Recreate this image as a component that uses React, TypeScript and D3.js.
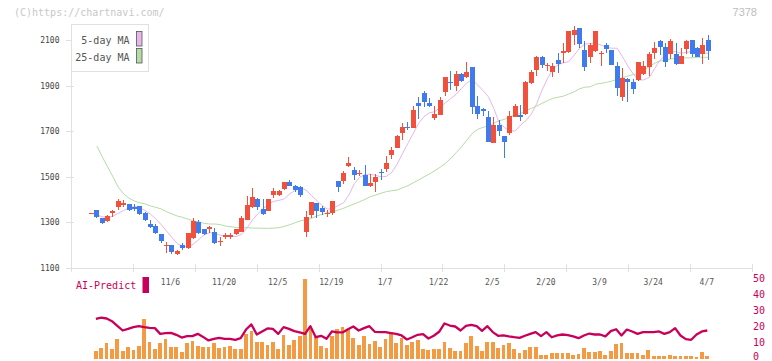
import React from 'react';
import * as d3 from 'd3';

// ---- data (index 0..115, trading days) ----
const opens = [1340,1354,1318,1307,1343,1369,1375,1379,1369,1372,
1343,1293,1284,1249,1197,1201,1161,1201,1186,1230,
1300,1270,1270,1257,1217,1237,1237,1249,1259,1311,
1366,1403,1359,1350,1420,1420,1447,1476,1460,1454,
1259,1332,1384,1362,1335,1340,1481,1483,1547,1530,
1514,1508,1461,1479,1521,1534,1596,1628,1693,1718,
1715,1822,1866,1822,1758,1771,1873,1917,1900,1949,
1936,1980,1810,1797,1761,1650,1727,1679,1691,1764,
1771,1774,1910,1968,2027,1986,1961,2012,2044,2046,
2122,2151,2056,2024,2053,2041,2078,2056,1986,1851,
1929,1917,1925,1951,1983,2044,2096,2071,2039,2039,
1995,2059,2100,2067,2039,2100];
const highs = [1341,1355,1318,1331,1354,1403,1398,1380,1379,1374,
1345,1309,1293,1251,1215,1203,1180,1208,1253,1320,
1311,1271,1284,1277,1235,1252,1254,1272,1328,1416,
1452,1405,1403,1403,1452,1440,1479,1486,1464,1458,
1352,1390,1385,1372,1354,1395,1482,1527,1588,1545,
1528,1552,1511,1511,1535,1592,1632,1683,1738,1742,
1810,1851,1878,1845,1810,1848,1939,1966,1962,1956,
2003,1980,1854,1800,1788,1761,1749,1679,1790,1821,
1815,1922,1968,2030,2030,1997,1997,2041,2085,2139,
2163,2151,2095,2085,2139,2050,2085,2056,2003,1979,
1934,1929,2005,2008,2049,2093,2100,2085,2103,2085,
2065,2100,2100,2071,2109,2122];
const lows = [1339,1318,1292,1303,1322,1354,1366,1352,1350,1332,
1308,1277,1251,1211,1167,1163,1157,1180,1184,1226,
1250,1245,1255,1207,1198,1229,1229,1245,1257,1309,
1362,1354,1332,1348,1408,1414,1443,1458,1435,1413,
1237,1318,1320,1332,1322,1332,1435,1467,1543,1487,
1502,1458,1457,1432,1487,1519,1577,1625,1660,1705,
1713,1753,1808,1808,1749,1771,1854,1881,1878,1915,
1932,1777,1752,1766,1654,1648,1679,1584,1684,1761,
1744,1771,1907,1940,1976,1966,1937,1955,2000,2041,
2077,2063,1966,1998,2049,1985,2044,1990,1856,1834,
1829,1864,1922,1947,1942,2017,2034,1983,2017,1990,
1995,2039,2027,2024,1995,2012];
const closes = [1341,1322,1299,1328,1350,1394,1384,1354,1360,1335,
1311,1281,1255,1220,1199,1172,1175,1189,1252,1306,
1252,1249,1281,1211,1219,1245,1245,1270,1318,1376,
1413,1369,1337,1401,1438,1438,1476,1461,1442,1420,
1322,1389,1351,1347,1343,1394,1457,1518,1562,1508,
1516,1461,1474,1500,1519,1560,1617,1679,1720,1716,
1793,1812,1829,1812,1775,1837,1936,1910,1949,1922,
1960,1808,1774,1787,1654,1727,1702,1654,1767,1810,
1761,1914,1961,2027,1990,1990,1986,1995,2052,2139,
2144,2081,1983,2078,2139,2043,2059,1990,1891,1934,
1917,1885,2002,1986,2039,2067,2068,2005,2096,1995,
2030,2096,2039,2027,2078,2053];

// moving averages, volume and AI-Predict start at index 1
const seriesStart = 1;
const ma5 = [1332,1325,1322,1327,1340,1352,1365,1370,1365,1352,
1336,1315,1290,1262,1234,1207,1195,1193,1205,1225,
1245,1255,1252,1244,1240,1238,1238,1248,1276,1310,
1338,1360,1381,1392,1397,1404,1426,1441,1450,1442,
1418,1396,1374,1358,1362,1374,1386,1420,1470,1498,
1510,1512,1506,1500,1502,1520,1556,1603,1647,1691,
1735,1764,1781,1785,1805,1825,1844,1862,1888,1913,
1925,1903,1878,1851,1800,1738,1716,1701,1701,1727,
1746,1775,1820,1880,1930,1970,1992,2000,2005,2034,
2064,2082,2085,2085,2078,2068,2064,2064,2027,1986,
1951,1925,1925,1936,1975,2012,2034,2049,2049,2042,
2046,2049,2046,2044,2042];
const ma25 = [1635,1588,1544,1500,1454,1425,1406,1394,1386,1381,
1372,1366,1359,1347,1337,1328,1322,1314,1307,1302,
1296,1293,1293,1290,1284,1281,1278,1277,1277,1275,
1275,1274,1274,1275,1277,1283,1290,1299,1307,1311,
1318,1328,1335,1343,1347,1354,1362,1372,1381,1391,
1401,1413,1420,1428,1435,1439,1442,1452,1461,1474,
1486,1500,1512,1527,1542,1559,1581,1606,1632,1661,
1691,1708,1717,1723,1735,1746,1752,1764,1771,1778,
1790,1800,1810,1822,1834,1844,1849,1854,1863,1873,
1886,1893,1895,1906,1910,1914,1920,1927,1935,1942,
1948,1954,1968,1983,1998,2008,2012,2017,2020,2020,
2022,2022,2024,2024,2024];
const volume = [4.9,6.8,9.9,6.0,12.2,4.9,7.2,5.3,8.0,24.8,
10.5,6.0,9.9,12.2,7.4,7.4,4.3,9.9,11.2,8.0,
7.0,7.0,9.5,6.8,7.4,8.0,6.0,6.0,15.4,17.5,
10.5,10.5,8.5,10.5,6.0,14.7,8.5,11.6,14.1,49.9,
18.5,13.3,7.8,6.4,14.1,18.5,19.4,18.3,12.7,8.5,
14.1,9.1,11.0,7.2,12.2,16.8,9.9,13.1,8.5,10.5,
11.6,6.0,5.3,5.8,6.0,10.5,6.8,4.9,4.9,9.9,
14.1,8.0,4.9,10.5,10.5,6.8,8.5,9.9,5.8,3.6,
5.3,7.0,7.4,2.2,2.2,3.3,3.3,3.3,3.3,2.2,
2.6,6.4,4.3,4.3,4.7,2.2,4.7,9.1,9.9,3.3,
3.3,3.3,2.2,5.3,1.6,1.6,1.6,2.2,1.6,1.6,
1.6,1.6,1.1,3.9,1.6];
const aiPredict = [24.8,25.6,25.0,23.3,20.4,17.5,18.5,19.6,20.2,19.6,
19.2,19.0,15.4,15.8,16.0,14.8,13.1,14.0,14.0,15.4,
13.5,11.3,12.3,12.9,12.3,12.3,11.7,12.7,18.1,21.3,
15.0,16.9,18.8,18.5,15.4,19.6,18.5,17.1,16.3,15.4,
20.2,13.3,14.2,12.3,16.9,16.3,16.3,18.3,20.0,17.5,
19.0,20.2,16.7,16.5,16.5,15.8,15.4,14.4,11.9,13.3,
14.8,15.2,12.5,14.2,16.7,21.9,20.6,20.0,17.5,20.4,
21.0,20.2,17.3,20.2,16.5,14.2,14.4,13.8,13.3,12.9,
14.2,15.4,16.5,14.0,16.5,13.3,14.4,15.0,14.6,13.8,
12.7,14.4,15.6,15.0,15.0,13.8,17.1,18.3,14.4,18.1,
16.9,15.4,16.5,16.5,16.5,16.9,15.4,16.5,19.0,14.4,
12.1,11.7,15.0,16.9,17.5];

const priceTicks = [1100, 1300, 1500, 1700, 1900, 2100];
const dateLabels = ['11/6','11/20','12/5','12/19','1/7','1/22','2/5','2/20','3/9','3/24','4/7'];
const dateLabelIdx = [15,25,35,45,55,65,75,85,95,105,115];
const aiTicks = [0, 10, 20, 30, 40, 50];
const xTickCount = 11;

const RED = '#f0503c';
const BLUE = '#3f7bed';
const PINK = '#e8b6ec';
const GREEN = '#b5dca8';
const CRIMSON = '#c8005a';
const ORANGE = '#f39a42';
const AXIS = '#e0e0e0';
const MONO = '"DejaVu Sans Mono", monospace';

export default function App() {
  const W = 772, H = 361;
  const x = d3.scaleLinear().domain([0, opens.length - 1]).range([91.5, 708.3]);
  const y = d3.scaleLinear().domain([1100, 2100]).range([268, 40]);
  const yb = d3.scaleLinear().domain([0, 50]).range([358.5, 278.5]);
  const xt = d3.scaleLinear().domain([0, xTickCount]).range([71, 752]);

  const line = d3.line<number>()
    .x((_, i) => x(i + seriesStart))
    .y((d) => y(d));
  const aiLine = d3.line<number>()
    .x((_, i) => x(i + seriesStart) - 1)
    .y((d) => yb(d));

  const bodyW = 5;

  return (
    <svg width={W} height={H} style={{ position: 'absolute', left: 0, top: 0, background: '#fff' }}
      xmlns="http://www.w3.org/2000/svg">
      <rect x={0} y={0} width={W} height={H} fill="#fff" />
      <text x={14} y={16} fontFamily={MONO} fontSize={10} fill="#c8c8c8">(C)https://chartnavi.com/</text>
      <text x={757} y={16} textAnchor="end" fontFamily='"Liberation Sans", Arial, sans-serif' fontSize={11} fill="#bdbdbd">7378</text>

      {/* axes */}
      <g shapeRendering="crispEdges">
        <line x1={71} x2={71} y1={24} y2={268} stroke={AXIS} />
        <line x1={71} x2={752} y1={268} y2={268} stroke={AXIS} />
        {priceTicks.map((t) => (
          <line key={'yt' + t} x1={65.5} x2={73.5} y1={Math.round(y(t)) + 0.5} y2={Math.round(y(t)) + 0.5} stroke={AXIS} />
        ))}
        {d3.range(xTickCount + 1).map((k) => (
          <line key={'xt' + k} x1={Math.round(xt(k)) + 0.5} x2={Math.round(xt(k)) + 0.5} y1={264} y2={272} stroke={AXIS} />
        ))}
      </g>
      {priceTicks.map((t) => (
        <text key={'yl' + t} x={59.5} y={y(t) + 3} textAnchor="end" fontFamily={MONO} fontSize={8} fill="#444">{t}</text>
      ))}
      {dateLabels.map((l, i) => (
        <text key={'xl' + l} x={x(dateLabelIdx[i]) - 1.5} y={285} textAnchor="middle" fontFamily={MONO} fontSize={8} fill="#555">{l}</text>
      ))}

      {/* moving averages */}
      <path d={line(ma25) || ''} fill="none" stroke={GREEN} strokeWidth={1} />
      <path d={line(ma5) || ''} fill="none" stroke={PINK} strokeWidth={1} />

      {/* candles */}
      <g shapeRendering="crispEdges">
        {opens.map((o, i) => {
          const c = closes[i];
          const up = c >= o;
          const col = up ? RED : BLUE;
          const cx = x(i);
          const left = Math.round(cx - bodyW / 2);
          const top = Math.round(y(Math.max(o, c)));
          const bot = Math.round(y(Math.min(o, c)));
          return (
            <g key={'c' + i}>
              <rect x={left + 2} y={Math.round(y(highs[i]))} width={1} height={Math.max(1, Math.round(y(lows[i])) - Math.round(y(highs[i])))} fill={col} />
              <rect x={left} y={top} width={bodyW} height={Math.max(1, bot - top)} fill={col} />
            </g>
          );
        })}
      </g>

      {/* legend */}
      <rect x={71} y={24.5} width={77} height={46.5} fill="#fff" stroke={AXIS} shapeRendering="crispEdges" />
      <text x={129.5} y={44} textAnchor="end" fontFamily={MONO} fontSize={10} fill="#555">5-day MA</text>
      <text x={129.5} y={61} textAnchor="end" fontFamily={MONO} fontSize={10} fill="#555">25-day MA</text>
      <rect x={136.5} y={31.5} width={5.5} height={14.5} fill={PINK} stroke="#555" strokeWidth={0.8} />
      <rect x={136.5} y={48.5} width={5.5} height={14.5} fill={GREEN} stroke="#555" strokeWidth={0.8} />

      {/* lower panel */}
      <text x={76} y={289} fontFamily={MONO} fontSize={10} fill={CRIMSON}>AI-Predict</text>
      <rect x={142.5} y={277} width={6.5} height={16} fill={CRIMSON} />
      <g shapeRendering="crispEdges">
        {volume.map((v, i) => {
          const cx = x(i + seriesStart) - 1;
          return <rect key={'v' + i} x={cx - 1.9} y={yb(v)} width={3.8} height={yb(0) - yb(v)} fill={ORANGE} />;
        })}
      </g>
      <path d={aiLine(aiPredict) || ''} fill="none" stroke={CRIMSON} strokeWidth={2.3} strokeLinejoin="round" />
      {aiTicks.map((t) => (
        <text key={'at' + t} x={753} y={Math.min(yb(t) + 3, 359.5)} fontFamily={MONO} fontSize={10} fill={CRIMSON}>{t}</text>
      ))}
    </svg>
  );
}
